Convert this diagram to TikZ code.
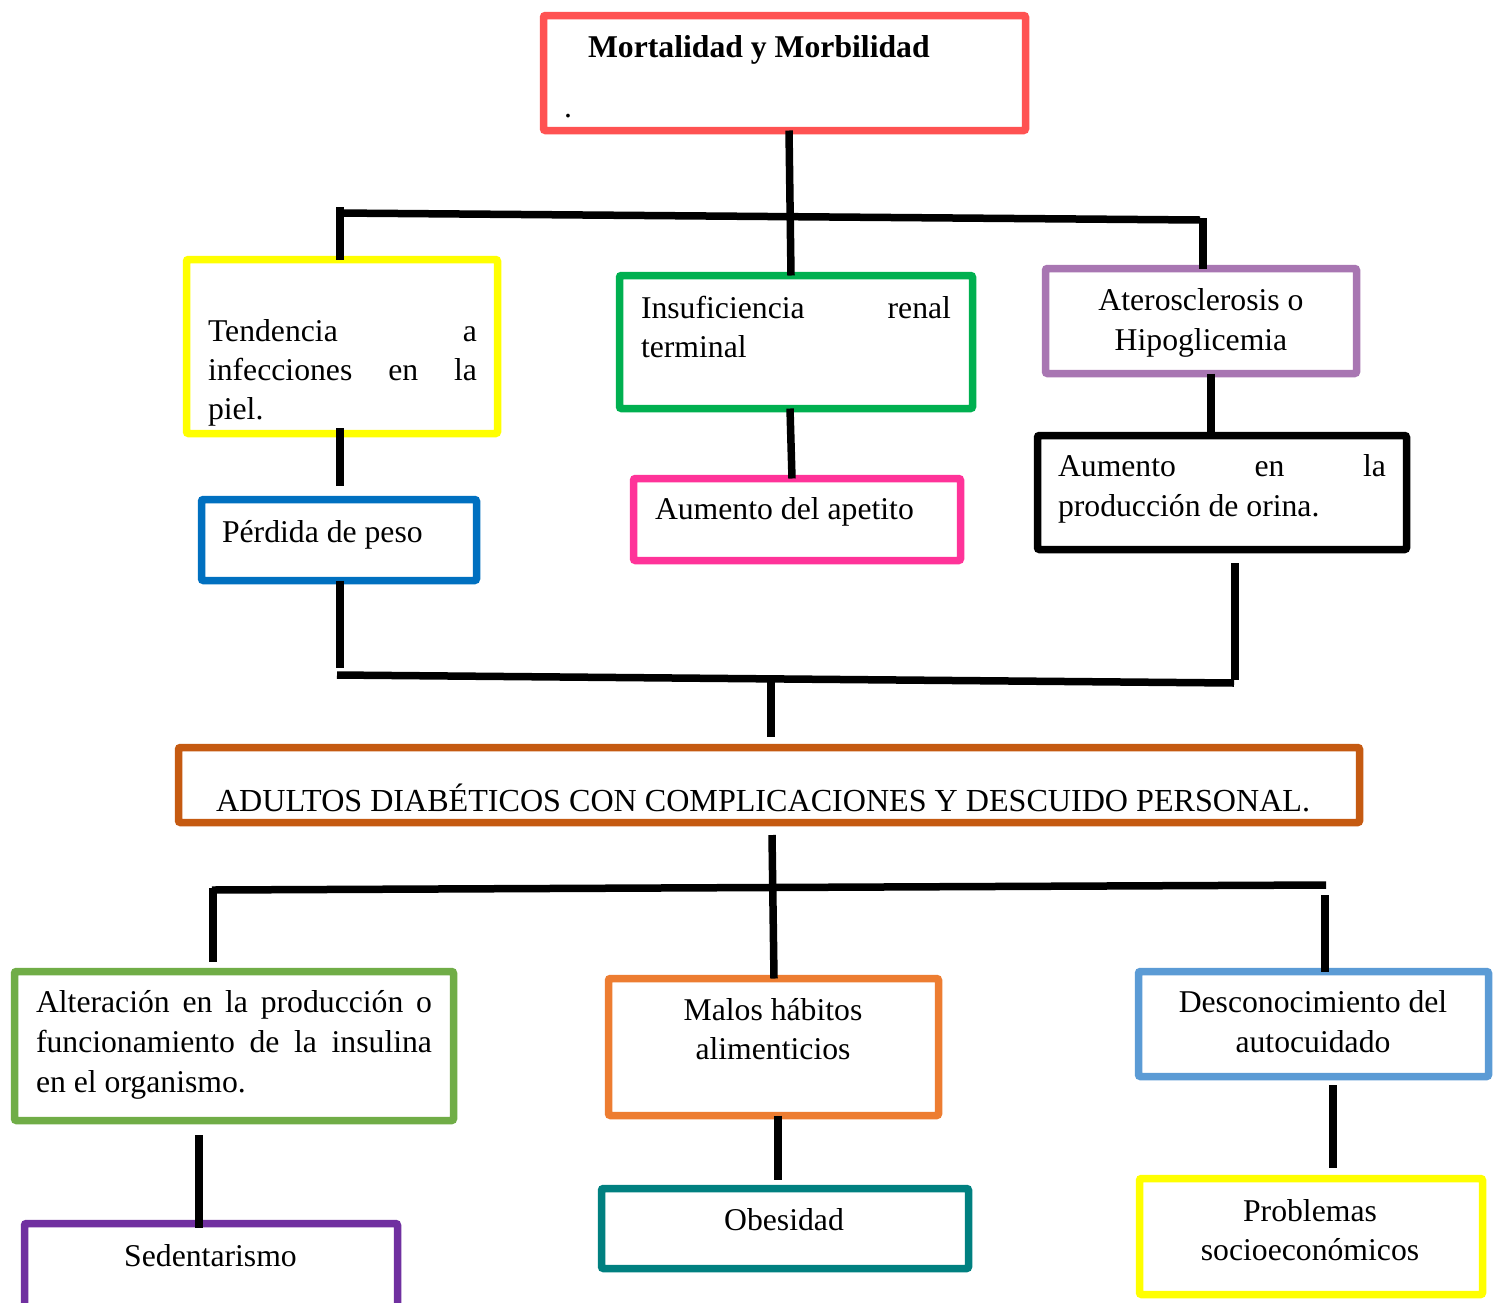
\documentclass[tikz,border=0pt]{standalone}
\usepackage{fontspec}
\setmainfont{Liberation Serif}
\definecolor{cRed}{RGB}{255,82,82}
\definecolor{cYel}{RGB}{255,255,0}
\definecolor{cGrn}{RGB}{0,176,80}
\definecolor{cLil}{RGB}{168,118,178}
\definecolor{cBlu}{RGB}{0,112,192}
\definecolor{cPnk}{RGB}{255,51,153}
\definecolor{cBrn}{RGB}{197,90,17}
\definecolor{cLGr}{RGB}{112,173,71}
\definecolor{cOrg}{RGB}{237,125,49}
\definecolor{cLBl}{RGB}{91,155,213}
\definecolor{cPur}{RGB}{112,48,160}
\definecolor{cTea}{RGB}{0,128,128}
\begin{document}
\begin{tikzpicture}[x=1pt,y=-1pt,
  box/.style={draw, line width=7.5pt, rounded corners=2pt, inner sep=0pt, outer sep=0pt},
  conn/.style={line width=7.5pt, draw=black},
  txt/.style={inner sep=0pt, outer sep=0pt, font=\fontsize{31.7}{39.5}\selectfont},
]
\useasboundingbox (0,0) rectangle (1504,1302);
\clip (0,0) rectangle (1504,1302);
\fill[white] (0,0) rectangle (1504,1302);

% boxes
\node[box, draw=cRed, minimum width=482pt, minimum height=115pt] (mort) at (784.5,73) {};
\node[box, draw=cYel, minimum width=311pt, minimum height=174pt] (ten) at (342,346.5) {};
\node[box, draw=cGrn, minimum width=353pt, minimum height=133pt] (ins) at (796,342) {};
\node[box, draw=cLil, minimum width=311pt, minimum height=105pt] (ater) at (1201,321) {};
\node[box, draw=cBlu, minimum width=275pt, minimum height=81pt] (perd) at (339,540) {};
\node[box, draw=cPnk, minimum width=327pt, minimum height=82pt] (apet) at (797,519.5) {};
\node[box, draw=black, minimum width=369pt, minimum height=114pt] (aum) at (1222,492.5) {};
\node[box, draw=cBrn, minimum width=1181pt, minimum height=75pt] (adu) at (769,785) {};
\node[box, draw=cLGr, minimum width=439pt, minimum height=149pt] (alt) at (234,1046) {};
\node[box, draw=cOrg, minimum width=330pt, minimum height=137pt] (mal) at (773.5,1047) {};
\node[box, draw=cLBl, minimum width=350pt, minimum height=105pt] (des) at (1313.5,1024) {};
\node[box, draw=cPur, minimum width=373pt, minimum height=110pt] (sed) at (211,1278.5) {};
\node[box, draw=cTea, minimum width=367pt, minimum height=80pt] (obe) at (785,1228.5) {};
\node[box, draw=cYel, minimum width=343pt, minimum height=116pt] (pro) at (1311,1236.5) {};

% texts
\node[txt, anchor=base west] (mortT) at (588,57) {\bfseries Mortalidad y Morbilidad};
\node[txt, anchor=base west] (mortD) at (564,117) {.};
\node[txt, anchor=base west] (tenA) at (208,341) {\makebox[269pt][s]{Tendencia a}};
\node[txt, anchor=base west] (tenB) at (208,380) {\makebox[269pt][s]{infecciones en la}};
\node[txt, anchor=base west] (tenC) at (208,419) {piel.};
\node[txt, anchor=base west] (insA) at (641,318) {\makebox[310pt][s]{Insuficiencia renal}};
\node[txt, anchor=base west] (insB) at (641,357) {terminal};
\node[txt, anchor=base] (atA) at (1201,310) {Aterosclerosis o};
\node[txt, anchor=base] (atB) at (1201,350) {Hipoglicemia};
\node[txt, anchor=base west] (perdT) at (222,542) {Pérdida de peso};
\node[txt, anchor=base west] (apetT) at (655,519) {Aumento del apetito};
\node[txt, anchor=base west] (aumA) at (1058,476) {\makebox[328pt][s]{Aumento en la}};
\node[txt, anchor=base west] (aumB) at (1058,516) {producción de orina.};
\node[txt, anchor=base west, font=\fontsize{32.1}{40}\selectfont] (aduT) at (216,811) {ADULTOS DIABÉTICOS CON COMPLICACIONES Y DESCUIDO PERSONAL.};
\node[txt, anchor=base west] (altA) at (36,1012) {\makebox[396pt][s]{Alteración en la producción o}};
\node[txt, anchor=base west] (altB) at (36,1052) {\makebox[396pt][s]{funcionamiento de la insulina}};
\node[txt, anchor=base west] (altC) at (36,1092) {en el organismo.};
\node[txt, anchor=base] (malA) at (773,1020) {Malos hábitos};
\node[txt, anchor=base] (malB) at (773,1059) {alimenticios};
\node[txt, anchor=base] (desA) at (1313,1012) {Desconocimiento del};
\node[txt, anchor=base] (desB) at (1313,1052) {autocuidado};
\node[txt, anchor=base] (sedT) at (210.5,1266) {Sedentarismo};
\node[txt, anchor=base] (obeT) at (784,1230) {Obesidad};
\node[txt, anchor=base] (proA) at (1310,1221) {Problemas};
\node[txt, anchor=base] (proB) at (1310,1260) {socioeconómicos};

% connector points
\coordinate (hL) at (337,213);
\coordinate (hR) at (1200,220);
\coordinate (vL) at (340,207);
\coordinate (vR) at (1203,218);
\coordinate (tenE) at (340,428);
\coordinate (perdE) at (340,486);
\coordinate (perdB) at (340,668);
\coordinate (mL) at (337,675);
\coordinate (mR) at (1234,683);
\coordinate (aumS) at (1235,563);
\coordinate (aumE) at (1235,680);
\coordinate (mC) at (771,680);
\coordinate (mCE) at (771,737);
\coordinate (aduS) at (772,835);
\coordinate (bL) at (212,890);
\coordinate (bR) at (1326,885);
\coordinate (bvL) at (213,888);
\coordinate (bvLE) at (213,962);
\coordinate (bvR) at (1325,895);
\coordinate (altS) at (199,1135);
\coordinate (altE) at (199,1228);
\coordinate (desS) at (1333,1085);
\coordinate (desE) at (1333,1168);
\coordinate (malE) at (778,1180);

% connectors
\draw[conn] (mort.south -| 789,0) -- (ins.north -| 791,0);
\draw[conn] (hL) -- (hR);
\draw[conn] (vL) -- (ten.north -| vL);
\draw[conn] (vR) -- (ater.north -| vR);
\draw[conn] (tenE) -- (perdE);
\draw[conn] (perd.south -| perdB) -- (perdB);
\draw[conn] (mL) -- (mR);
\draw[conn] (aumS) -- (aumE);
\draw[conn] (mC) -- (mCE);
\draw[conn] (ins.south -| 790,0) -- (apet.north -| 792,0);
\draw[conn] (ater.south -| 1211,0) -- (aum.north -| 1211,0);
\draw[conn] (aduS) -- (mal.north -| 774,0);
\draw[conn] (bL) -- (bR);
\draw[conn] (bvL) -- (bvLE);
\draw[conn] (bvR) -- (des.north -| bvR);
\draw[conn] (altS) -- (altE);
\draw[conn] (mal.south -| malE) -- (malE);
\draw[conn] (desS) -- (desE);
\end{tikzpicture}
\end{document}
